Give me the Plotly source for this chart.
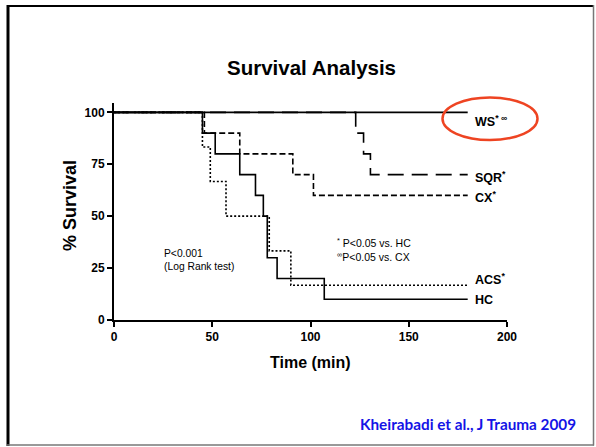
import plotly.graph_objects as go

# ---- data ----
ws_t = [0, 180]
ws_s = [100, 100]
sqr_t = [0, 123, 127, 130.5, 180]
sqr_s = [100, 90, 80, 70, 70]
cx_t = [0, 46, 64, 91, 101.5, 180]
cx_s = [100, 90, 80, 70, 60, 60]
acs_t = [0, 45, 49, 57, 79, 90, 180]
acs_s = [100, 83.3, 66.7, 50, 33.3, 16.7, 16.7]
hc_t = [0, 45, 51.5, 64, 72, 76, 78, 83, 107, 180]
hc_s = [100, 90, 80, 70, 60, 50, 30, 20, 10, 10]

x_ticks = [0, 50, 100, 150, 200]
y_ticks = [0, 25, 50, 75, 100]

group_labels = ["WS<sup>* ∞</sup>", "SQR<sup>*</sup>", "CX<sup>*</sup>", "ACS<sup>*</sup>", "HC"]

# body margin is removed by the post script, so figure pixels == page pixels
W, H = 596, 447
PLOT_LEFT, PLOT_BOTTOM = 114, 320
PW, PH = 393, 217
L = PLOT_LEFT
T = PLOT_BOTTOM - PH
R = W - L - PW
B = H - T - PH


def px2x(px):
    return (px - PLOT_LEFT) / PW


def py2y(py):
    return (PLOT_BOTTOM - py) / PH


fig = go.Figure()

LW = 1.6
series = [
    (sqr_t, sqr_s, "16px,8px"),
    (cx_t, cx_s, "6px,3px"),
    (acs_t, acs_s, "2px,2px"),
    (hc_t, hc_s, "solid"),
    (ws_t, ws_s, "solid"),
]
for t, s, dash in series:
    fig.add_trace(go.Scatter(x=t, y=s, mode="lines", line_shape="hv",
                             line=dict(color="black", width=LW, dash=dash),
                             showlegend=False, hoverinfo="skip"))

font_axis = "Liberation Sans, Arial, sans-serif"

fig.update_layout(
    width=W, height=H,
    margin=dict(l=L, r=R, t=T, b=B, pad=0),
    paper_bgcolor="white", plot_bgcolor="white",
    showlegend=False,
    xaxis=dict(range=[0, 200], tickvals=x_ticks, ticks="outside", ticklen=5, tickwidth=1.6,
               tickcolor="black", showline=True, linecolor="black", linewidth=2,
               showgrid=False, zeroline=False,
               tickfont=dict(family=font_axis, size=12, color="black", weight="bold")),
    yaxis=dict(range=[0, 104.5], tickvals=y_ticks, ticks="outside", ticklen=5, tickwidth=1.6,
               tickcolor="black", showline=True, linecolor="black", linewidth=2,
               showgrid=False, zeroline=False,
               tickfont=dict(family=font_axis, size=12, color="black", weight="bold")),
)

ann = []
# title
ann.append(dict(text="<b>Survival Analysis</b>", x=px2x(311), y=py2y(67), xref="paper", yref="paper",
                xanchor="center", yanchor="middle", showarrow=False,
                font=dict(family=font_axis, size=20.5, color="black")))
# axis titles
ann.append(dict(text="<b>% Survival</b>", x=px2x(70), y=py2y(206), xref="paper", yref="paper",
                xanchor="center", yanchor="middle", showarrow=False, textangle=-90,
                font=dict(family=font_axis, size=18, color="black")))
ann.append(dict(text="<b>Time (min)</b>", x=px2x(310), y=py2y(362), xref="paper", yref="paper",
                xanchor="center", yanchor="middle", showarrow=False,
                font=dict(family=font_axis, size=16, color="black")))
# group labels
label_py = [121, 177, 197, 279, 300]
for txt, py in zip(group_labels, label_py):
    ann.append(dict(text="<b>" + txt + "</b>", x=px2x(472.5), y=py2y(py), xref="paper", yref="paper",
                    xanchor="left", yanchor="middle", showarrow=False,
                    font=dict(family=font_axis, size=12.5, color="black")))
# statistics notes
ann.append(dict(text="P&lt;0.001<br>(Log Rank test)", x=px2x(161.5), y=py2y(246), xref="paper", yref="paper",
                xanchor="left", yanchor="top", align="left", showarrow=False,
                font=dict(family=font_axis, size=10.3, color="black")))
ann.append(dict(text="<sup>*</sup> P&lt;0.05 vs. HC", x=px2x(334.5), y=py2y(242.5), xref="paper", yref="paper",
                xanchor="left", yanchor="middle", showarrow=False,
                font=dict(family=font_axis, size=10.5, color="black")))
ann.append(dict(text="<sup>∞</sup>P&lt;0.05 vs. CX", x=px2x(334.5), y=py2y(256), xref="paper", yref="paper",
                xanchor="left", yanchor="middle", showarrow=False,
                font=dict(family=font_axis, size=10.5, color="black")))
# citation
ann.append(dict(text="<b>Kheirabadi et al., J Trauma 2009</b>", x=px2x(358), y=py2y(423.5), xref="paper", yref="paper",
                xanchor="left", yanchor="middle", showarrow=False,
                font=dict(family="Lato, Open Sans, sans-serif", size=15.3, color="#1414E6")))
fig.update_layout(annotations=ann)

shapes = []
# red ellipse around WS
shapes.append(dict(type="circle", xref="paper", yref="paper",
                   x0=px2x(442.5), x1=px2x(537.5), y0=py2y(140), y1=py2y(97.5),
                   line=dict(color="#EE4422", width=2.5)))
# slide frame
shapes.append(dict(type="line", xref="paper", yref="paper", x0=px2x(7), x1=px2x(594), y0=py2y(6), y1=py2y(6),
                   line=dict(color="black", width=2.2)))
shapes.append(dict(type="line", xref="paper", yref="paper", x0=px2x(8), x1=px2x(8), y0=py2y(5), y1=py2y(446),
                   line=dict(color="black", width=3)))
shapes.append(dict(type="line", xref="paper", yref="paper", x0=px2x(593.5), x1=px2x(593.5), y0=py2y(5), y1=py2y(445.5),
                   line=dict(color="#777777", width=1.5)))
shapes.append(dict(type="line", xref="paper", yref="paper", x0=px2x(7), x1=px2x(594), y0=py2y(445), y1=py2y(445),
                   line=dict(color="#777777", width=1.5)))
fig.update_layout(shapes=shapes)

fig.write_html("out.html", config={"displayModeBar": False},
               post_script="document.body.style.margin='0px';")
